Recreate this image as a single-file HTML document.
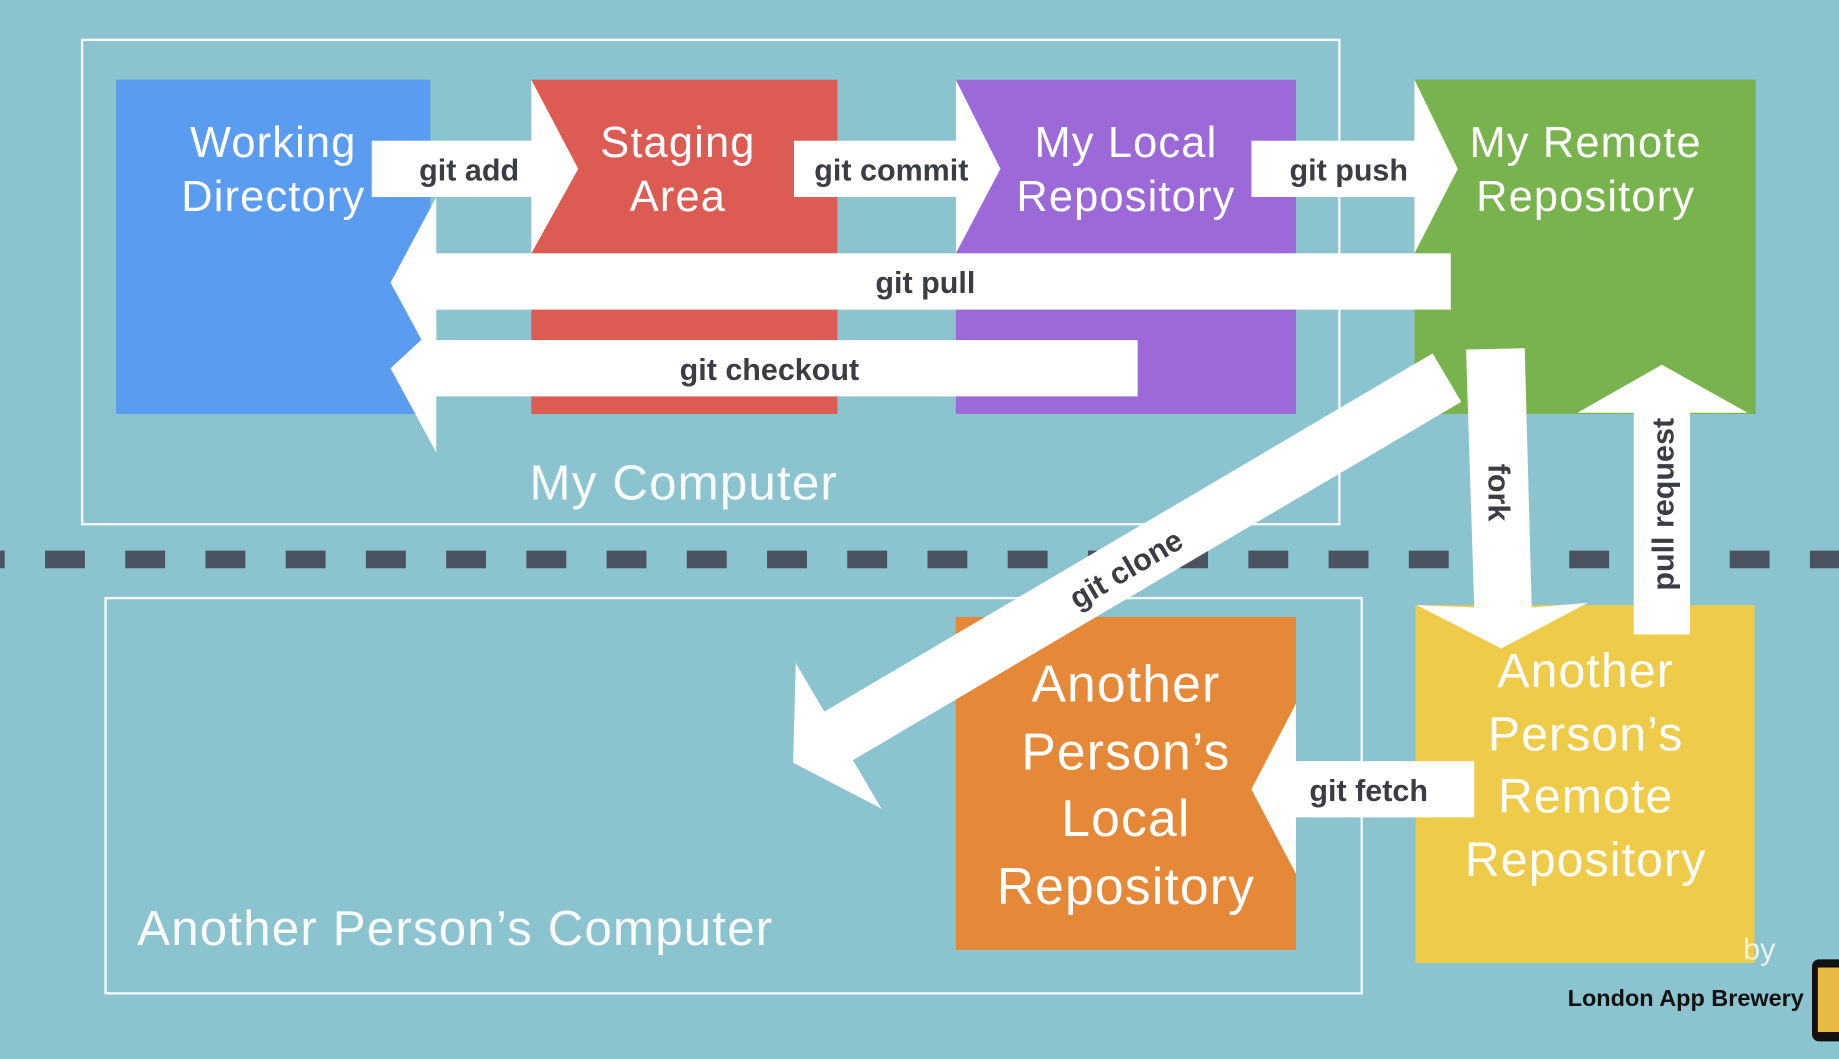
<!DOCTYPE html>
<html><head><meta charset="utf-8"><style>
html,body{margin:0;padding:0;background:#8BC3CF;overflow:hidden}
svg{display:block}
.bt{font-family:"Liberation Sans",sans-serif;fill:#fff;text-anchor:middle}
.al{font-family:"Liberation Sans",sans-serif;font-weight:bold;fill:#3b3d44;font-size:26px;text-anchor:middle}
</style></head><body>
<svg width="1839" height="1059" viewBox="0 0 1568 903" preserveAspectRatio="none">
<rect width="1568" height="903" fill="#8BC3CF"/>
<rect x="70" y="34" width="1072" height="413" fill="none" stroke="#fff" stroke-width="2" opacity="0.9"/>
<rect x="90" y="510" width="1071" height="337" fill="none" stroke="#fff" stroke-width="2" opacity="0.9"/>
<line x1="-30" y1="477" x2="1568" y2="477" stroke="#4A5360" stroke-width="15" stroke-dasharray="34 34.4"/>
<rect x="99" y="68" width="268" height="285" fill="#5A9CF0"/>
<rect x="453" y="68" width="261" height="285" fill="#DC5B53"/>
<rect x="815" y="68" width="290" height="285" fill="#9C6AD8"/>
<rect x="1206" y="68" width="291" height="285" fill="#79B34E"/>
<rect x="815" y="526" width="290" height="284" fill="#E58838"/>
<rect x="1207" y="516" width="289" height="305" fill="#EFCB4A"/>
<g class="bt" font-size="37">
<text x="233" y="134" letter-spacing="1">Working</text><text x="233" y="180" letter-spacing="1">Directory</text>
<text x="578" y="134" letter-spacing="1">Staging</text><text x="578" y="180" letter-spacing="1">Area</text>
<text x="960" y="134" letter-spacing="1">My Local</text><text x="960" y="180" letter-spacing="1">Repository</text>
<text x="1352" y="134" letter-spacing="1">My Remote</text><text x="1352" y="180" letter-spacing="1">Repository</text>
</g>
<g class="bt" font-size="44">
<text x="960" y="598" letter-spacing="1">Another</text><text x="960" y="656" letter-spacing="1">Person’s</text><text x="960" y="713" letter-spacing="1">Local</text><text x="960" y="771" letter-spacing="1">Repository</text>
</g>
<g class="bt" font-size="41">
<text x="1352" y="586" letter-spacing="1">Another</text><text x="1352" y="640" letter-spacing="1">Person’s</text><text x="1352" y="693" letter-spacing="1">Remote</text><text x="1352" y="747" letter-spacing="1">Repository</text>
</g>
<text class="bt" x="583" y="426" font-size="42" letter-spacing="1" opacity="0.95">My Computer</text>
<text class="bt" x="117" y="806" font-size="42" letter-spacing="1" style="text-anchor:start" opacity="0.95">Another Person’s Computer</text>
<g fill="#fff">
<rect x="317" y="120" width="138" height="48"/><polygon points="453,68 493,144 453,216"/>
<rect x="677" y="120" width="140" height="48"/><polygon points="815,68 853,144 815,216"/>
<rect x="1067" y="120" width="141" height="48"/><polygon points="1206,68 1243,144 1206,216"/>
<rect x="370" y="216" width="867" height="48"/><polygon points="372,168 333,241 372,313"/>
<rect x="370" y="290" width="600" height="48"/><polygon points="372,278 333,314 372,386"/>
<rect x="1103" y="649" width="154" height="48"/><polygon points="1105,600 1067,673 1105,745"/>
<polygon points="1250,298 1300,297 1306,518 1354,514 1280,553 1208,516 1257,518"/>
<rect x="1393" y="350" width="48" height="191"/><polygon points="1345,352 1417,311 1490,352"/>
<g transform="translate(1232,323) rotate(149.5)">
<rect x="-2" y="-24" width="604" height="48"/><polygon points="600,-72 645,0 600,72"/>
</g>
</g>
<text class="al" x="400" y="154">git add</text>
<text class="al" x="760" y="154">git commit</text>
<text class="al" x="1150" y="154">git push</text>
<text class="al" x="789" y="250">git pull</text>
<text class="al" x="656" y="324">git checkout</text>
<text class="al" x="1167" y="683">git fetch</text>
<text class="al" transform="translate(960,485) rotate(-30.5)" y="9">git clone</text>
<text class="al" transform="translate(1278,420) rotate(90)" y="9">fork</text>
<text class="al" transform="translate(1418,430) rotate(-90)" y="9">pull request</text>
<text x="1500" y="818" font-family="Liberation Sans,sans-serif" font-size="26" fill="#fff" opacity="0.8" text-anchor="middle">by</text>
<text x="1538" y="858" font-family="Liberation Sans,sans-serif" font-weight="bold" font-size="20" fill="#111" text-anchor="end">London App Brewery</text>
<rect x="1545" y="818" width="30" height="70" rx="6" fill="#111"/>
<rect x="1550" y="825" width="25" height="55" fill="#E9B945"/>
</svg>
</body></html>
